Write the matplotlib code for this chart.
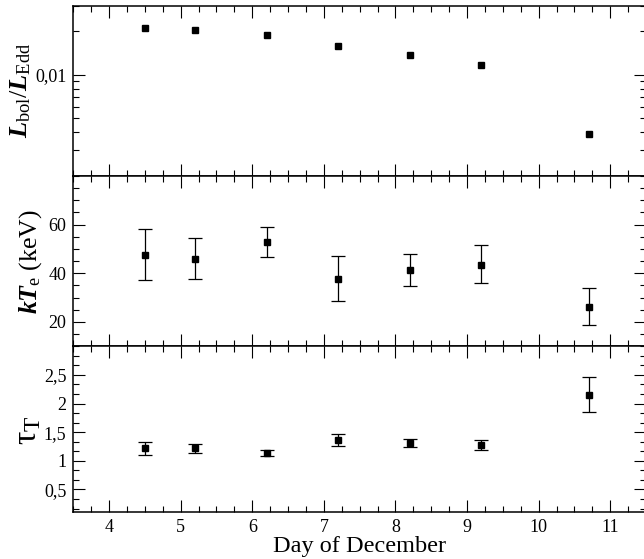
#!/usr/bin/env python3
"""
Three-panel light curve: Eddington ratio, electron temperature and optical depth
versus day of December.
"""

import numpy as np
import matplotlib
matplotlib.use("Agg")
import matplotlib.pyplot as plt
from matplotlib.ticker import (FixedLocator, MultipleLocator, LogLocator,
                               NullFormatter, FuncFormatter)

# observation days
days = [4.5, 5.2, 6.2, 7.2, 8.2, 9.2, 10.7]

# L_bol / L_Edd
lbol = [0.0211, 0.0204, 0.0188, 0.0157, 0.0136, 0.0117, 0.0039]

# kT_e (keV) with lower / upper limits
kte = [47.7, 46.0, 52.7, 37.8, 41.5, 43.6, 26.3]
kte_lo = [37.3, 37.8, 46.6, 28.6, 34.8, 35.9, 18.6]
kte_hi = [58.2, 54.4, 58.9, 47.1, 48.1, 51.5, 34.1]

# tau_T with lower / upper limits
tau = [1.215, 1.215, 1.134, 1.36, 1.305, 1.27, 2.157]
tau_lo = [1.099, 1.134, 1.08, 1.256, 1.238, 1.18, 1.86]
tau_hi = [1.326, 1.29, 1.18, 1.465, 1.378, 1.366, 2.46]

plt.rcParams['font.family'] = ['Liberation Serif', 'DejaVu Serif']
plt.rcParams['mathtext.fontset'] = 'custom'
plt.rcParams['mathtext.rm'] = 'Liberation Serif'
plt.rcParams['mathtext.it'] = 'Liberation Serif:italic:bold'
plt.rcParams['mathtext.bf'] = 'Liberation Serif:bold'


def comma_fmt(v, pos):
    s = '%g' % v
    return s.replace('.', ',')


def style_axis(ax, show_xlabels):
    ax.set_xlim(3.5, 11.5)
    ax.xaxis.set_major_locator(MultipleLocator(1))
    ax.xaxis.set_minor_locator(MultipleLocator(0.25))
    ax.tick_params(which='both', direction='in', top=True, right=True,
                   width=0.8, labelsize=13, pad=5)
    ax.tick_params(which='major', length=8.5)
    ax.tick_params(which='minor', length=4.3)
    if not show_xlabels:
        ax.tick_params(axis='x', labelbottom=False)
    for sp in ax.spines.values():
        sp.set_linewidth(1.1)


fig = plt.figure(figsize=(6.44, 5.59), dpi=100)
left, width = 0.1138, 0.8893
ax1 = fig.add_axes([left, 0.6852, width, 0.3047])
ax2 = fig.add_axes([left, 0.3805, width, 0.3047])
ax3 = fig.add_axes([left, 0.0835, width, 0.2970])

marker_kw = dict(fmt='s', color='black', markersize=4.7, capsize=5,
                 elinewidth=0.9, capthick=0.9, linestyle='none')

# top panel: Eddington ratio (log)
ax1.plot(days, lbol, 's', color='black', markersize=4.7)
ax1.set_yscale('log')
ax1.set_ylim(0.002, 0.03)
ax1.yaxis.set_major_locator(FixedLocator([0.01]))
ax1.yaxis.set_minor_locator(LogLocator(base=10, subs=np.arange(2, 10)))
ax1.yaxis.set_major_formatter(FuncFormatter(comma_fmt))
ax1.yaxis.set_minor_formatter(NullFormatter())
style_axis(ax1, False)
ax1.set_ylabel(r'$L_{\mathrm{bol}}/L_{\mathrm{Edd}}$', fontsize=19, va='center')
ax1.yaxis.set_label_coords(-0.092, 0.5)

# middle panel: electron temperature
kte_err = [np.subtract(kte, kte_lo), np.subtract(kte_hi, kte)]
ax2.errorbar(days, kte, yerr=kte_err, **marker_kw)
ax2.set_ylim(10, 80)
ax2.yaxis.set_major_locator(FixedLocator([20, 40, 60]))
ax2.yaxis.set_minor_locator(MultipleLocator(5))
style_axis(ax2, False)
ax2.set_ylabel(r'$kT_{\mathrm{e}}$ (keV)', fontsize=18.5, va='center')
ax2.yaxis.set_label_coords(-0.075, 0.494)

# bottom panel: optical depth
tau_err = [np.subtract(tau, tau_lo), np.subtract(tau_hi, tau)]
ax3.errorbar(days, tau, yerr=tau_err, **marker_kw)
ax3.set_ylim(0.1, 3.0)
ax3.yaxis.set_major_locator(FixedLocator([0.5, 1, 1.5, 2, 2.5]))
ax3.yaxis.set_minor_locator(MultipleLocator(0.5 / 3))
ax3.yaxis.set_major_formatter(FuncFormatter(comma_fmt))
style_axis(ax3, True)
ax3.xaxis.set_major_formatter(FuncFormatter(comma_fmt))
ax3.set_ylabel('τ$_{\\mathrm{T}}$', fontsize=24, va='center')
ax3.yaxis.set_label_coords(-0.08, 0.496)
ax3.set_xlabel('Day of December', fontsize=17.5, labelpad=0)

fig.savefig('out.png', dpi=100)
